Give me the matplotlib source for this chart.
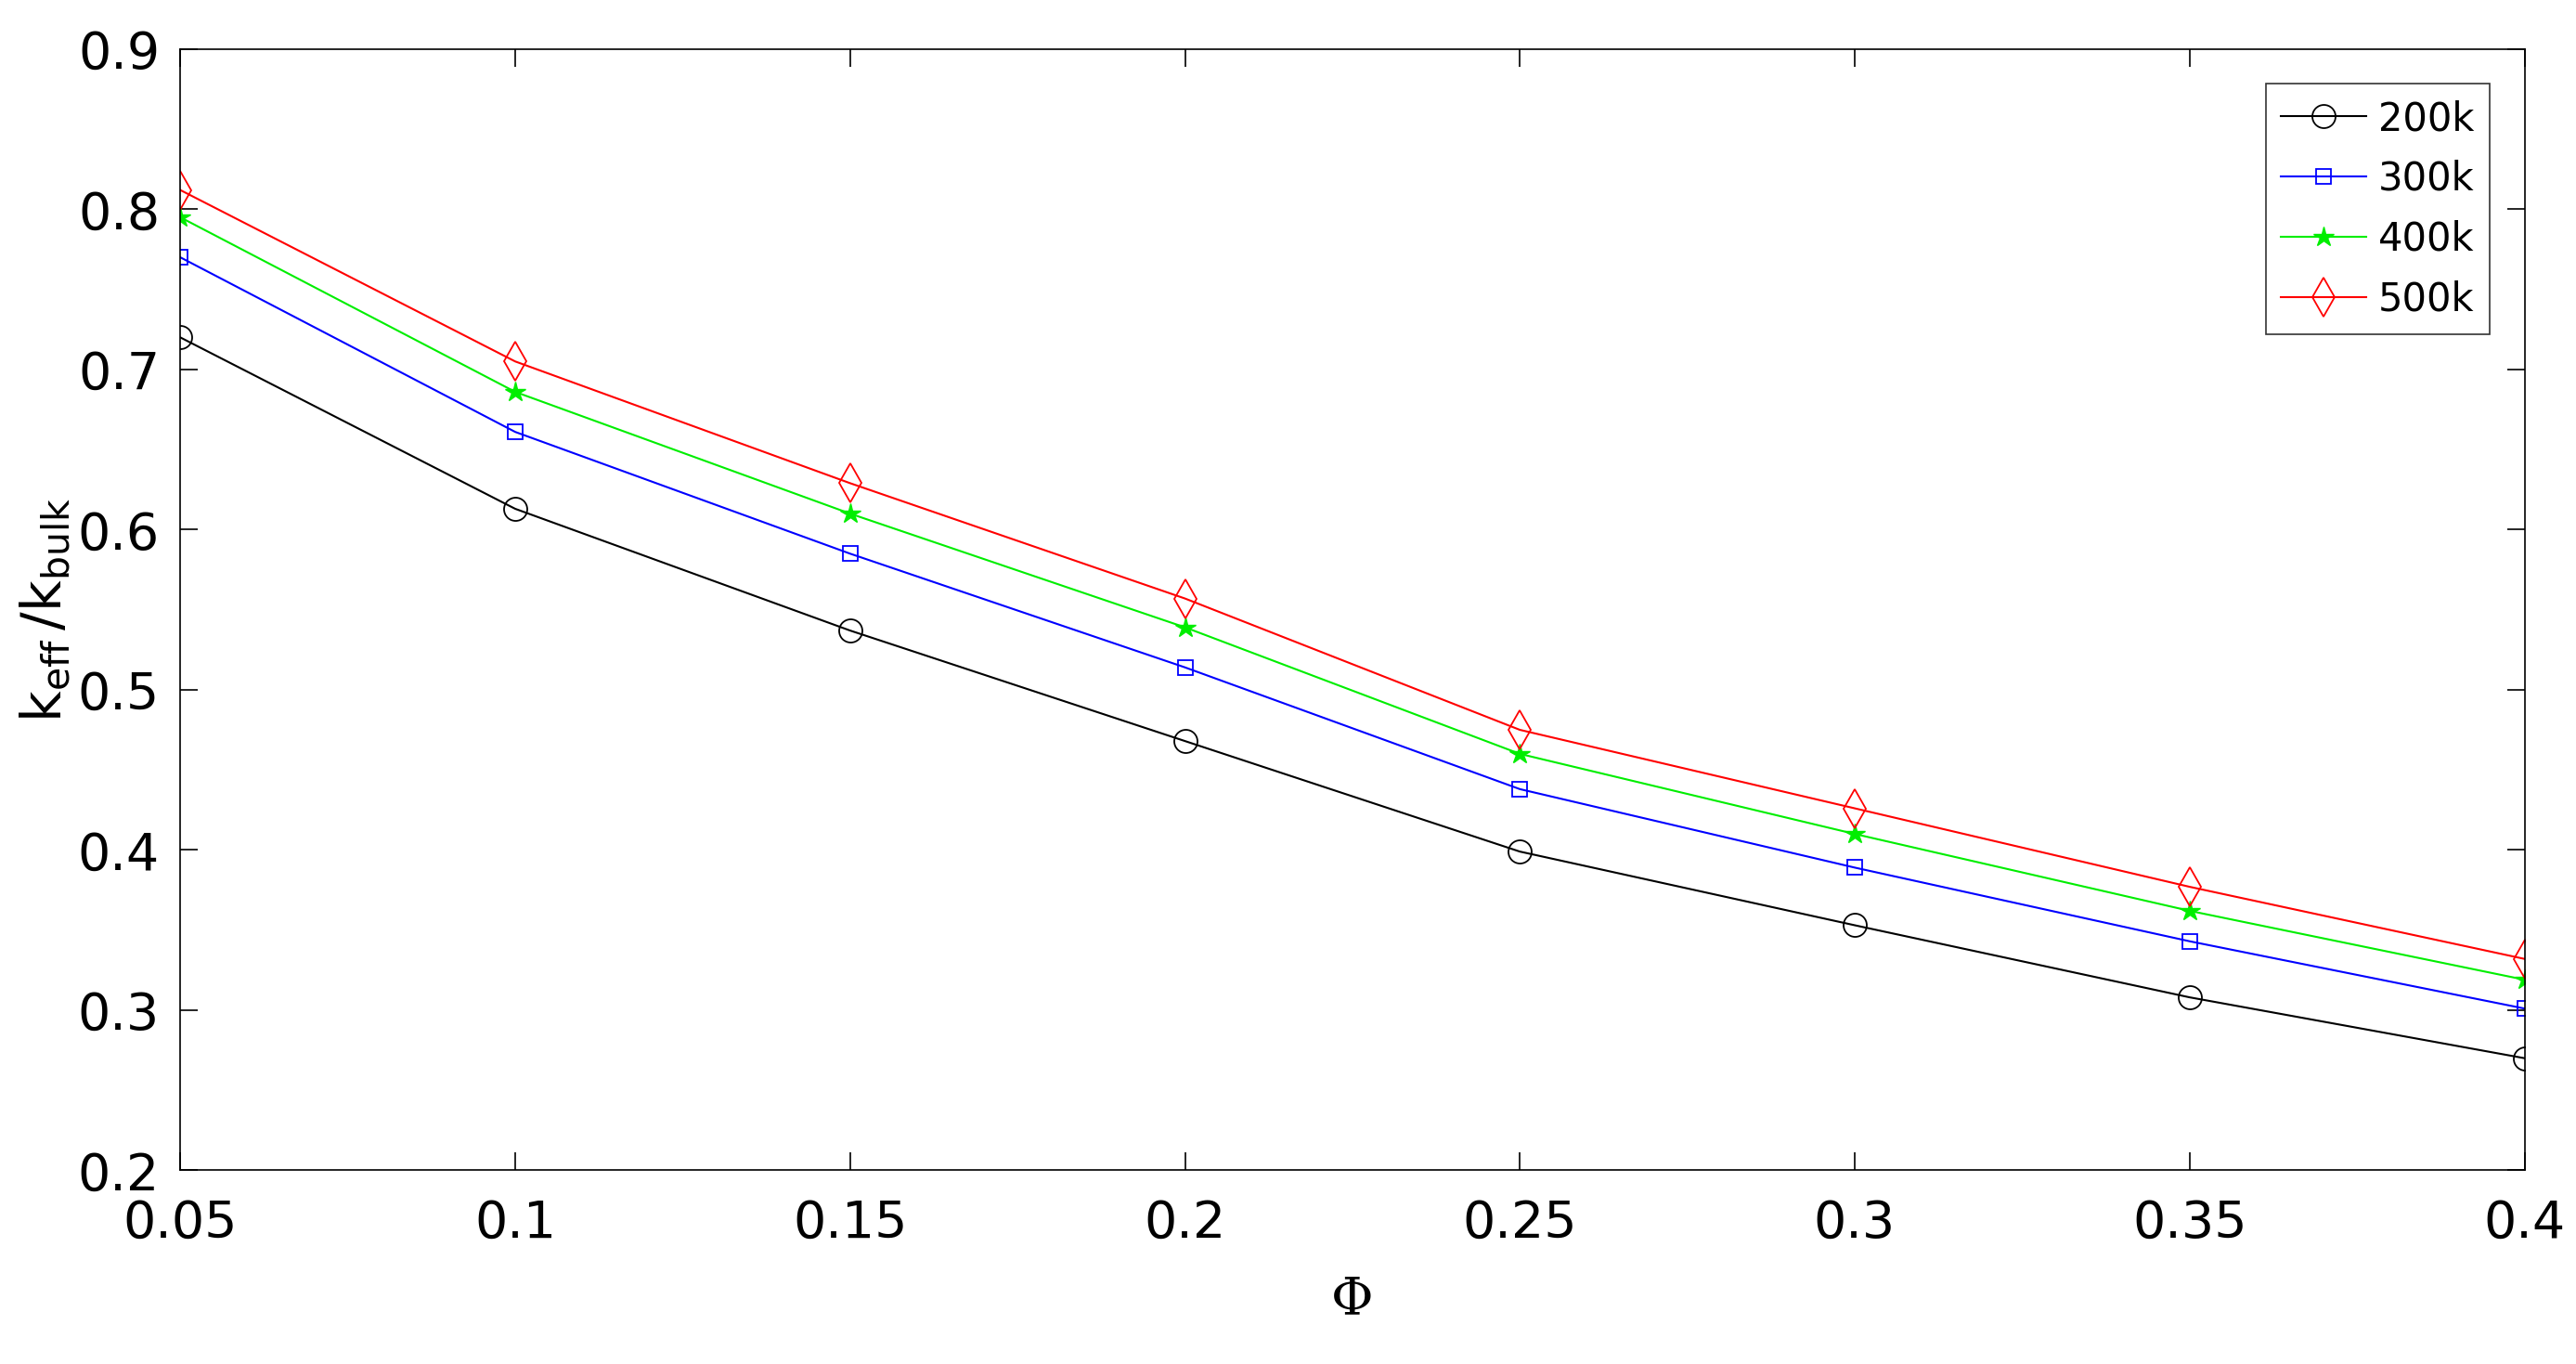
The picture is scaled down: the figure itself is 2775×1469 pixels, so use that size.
import matplotlib
matplotlib.use("Agg")
import matplotlib.pyplot as plt

phi = [0.05, 0.1, 0.15, 0.2, 0.25, 0.3, 0.35, 0.4]
k200 = [0.720, 0.613, 0.537, 0.468, 0.399, 0.353, 0.308, 0.270]
k300 = [0.770, 0.661, 0.585, 0.514, 0.438, 0.389, 0.343, 0.301]
k400 = [0.795, 0.686, 0.610, 0.539, 0.460, 0.410, 0.362, 0.319]
k500 = [0.812, 0.705, 0.629, 0.557, 0.475, 0.426, 0.377, 0.332]
labels = ["200k", "300k", "400k", "500k"]

fig = plt.figure(figsize=(27.75, 14.69), dpi=100)
ax = fig.add_axes([0.070, 0.142, 0.910, 0.822])
ax.plot(phi, k200, color="black", marker="o", mfc="none", ms=18, lw=1.5, mew=1.3, label=labels[0])
ax.plot(phi, k300, color="blue", marker="s", mfc="none", ms=12, lw=1.5, mew=1.3, label=labels[1])
ax.plot(phi, k400, color="#00ee00", marker="*", ms=16, lw=1.5, mew=1.0, label=labels[2])
ax.plot(phi, k500, color="red", marker="d", mfc="none", ms=21, lw=1.5, mew=1.3, label=labels[3])
ax.set_xlim(0.05, 0.4)
ax.set_ylim(0.2, 0.9)
ax.set_xticks(phi)
ax.set_xticklabels(["0.05", "0.1", "0.15", "0.2", "0.25", "0.3", "0.35", "0.4"])
ax.set_yticks([0.2, 0.3, 0.4, 0.5, 0.6, 0.7, 0.8, 0.9])
ax.tick_params(direction="in", top=True, right=True, labelsize=40, length=14, width=1.2)
ax.tick_params(axis="x", pad=22)
ax.tick_params(axis="y", pad=16)
for s in ax.spines.values():
    s.set_linewidth(1.2)
ax.set_xlabel("Φ", fontsize=40, family="serif", labelpad=20)
ax.set_ylabel(r"$\mathregular{k_{eff}\,/k_{bulk}}$", fontsize=42)
leg = ax.legend(loc="upper right", fontsize=30, fancybox=False, edgecolor="black",
                handlelength=2.2, handletextpad=0.3, borderaxespad=0.9, labelspacing=0.55)
leg.get_frame().set_linewidth(1.2)
fig.savefig("out.png", dpi=100)
